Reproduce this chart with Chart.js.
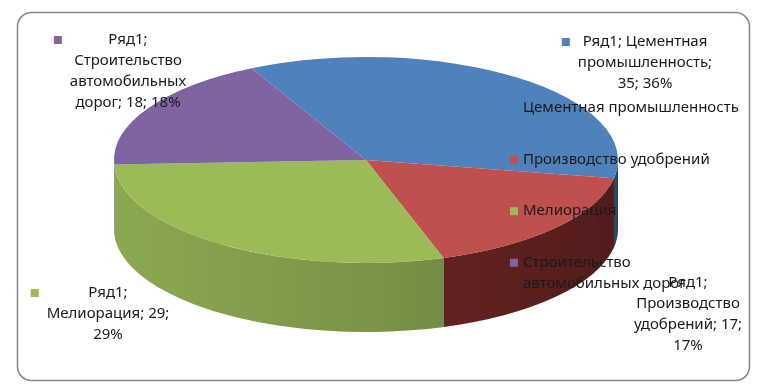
<!DOCTYPE html>
<html>
<head>
<meta charset="utf-8">
<script src="https://cdn.jsdelivr.net/npm/chart.js@4.4.1/dist/chart.umd.min.js"></script>
<style>
    html, body { margin: 0; padding: 0; background: #fff; }
    canvas { display: block; }
</style>
</head>
<body>
<canvas id="pie" width="775" height="385"></canvas>
<script>
// ============================================================
//  Data
// ============================================================

const SERIES = "Ряд1";
const categories = [
    "Цементная промышленность",
    "Производство удобрений",
    "Мелиорация",
    "Строительство автомобильных дорог",
];
const values   = [35, 17, 29, 18];
const percents = [36, 17, 29, 18];

// ============================================================
//  Styles / layout
// ============================================================

const topColors  = ["#4f81bd", "#c0504d", "#9bbb59", "#8064a2"];
const sideColors = ["#3e6592", "#762828", "#8ba851", "#654e82"];

const PIE = { cx: 366, cy: 160, rx: 252, ry: 103, depth: 69, rotation: -27 };
const FONT = "'Noto Sans', 'DejaVu Sans', sans-serif";
const TEXT = "#1a1a1a";

// data label anchors: centre x, first line y
const labelPos = [[645, 42], [688, 283], [108, 293], [128, 40]];
const labelKey = [true, false, true, true];
const LABEL_WRAP = 133;

const LEGEND = { x: 523, y0: 108, step: 51.6 };

// ============================================================
//  Helpers
// ============================================================

function wrapText(ctx, text, maxW) {
    const words = text.split(" ");
    const lines = [];
    let cur = "";
    for (const w of words) {
        const t = cur ? cur + " " + w : w;
        if (cur && ctx.measureText(t).width > maxW) {
            lines.push(cur);
            cur = w;
        } else {
            cur = t;
        }
    }
    if (cur) lines.push(cur);
    return lines;
}

// ============================================================
//  Plugins
// ============================================================

const framePlugin = {
    id: "frame",
    beforeDraw(chart) {
        const ctx = chart.ctx;
        ctx.save();
        ctx.fillStyle = "#fff";
        ctx.fillRect(0, 0, chart.width, chart.height);
        ctx.beginPath();
        ctx.roundRect(17.5, 12.5, 732, 368, 14);
        ctx.strokeStyle = "#8a8a8a";
        ctx.lineWidth = 1.6;
        ctx.stroke();
        ctx.restore();
    },
};

// squash the pie into an ellipse and extrude its front rim
const pie3dPlugin = {
    id: "pie3d",
    beforeDatasetsDraw(chart) {
        const ctx = chart.ctx;
        const meta = chart.getDatasetMeta(0);
        const el0 = meta.data[0];
        const cx = el0.x, cy = el0.y, r = el0.outerRadius;
        const sx = PIE.rx / r;
        const d = PIE.depth;

        ctx.save();
        ctx.translate(cx, 0);
        ctx.scale(sx, 1);
        ctx.translate(-cx, 0);

        meta.data.forEach((el, i) => {
            for (const k of [-1, 0, 1]) {
                const a0 = Math.max(el.startAngle + k * 2 * Math.PI, 0);
                const a1 = Math.min(el.endAngle + k * 2 * Math.PI, Math.PI);
                if (a1 <= a0) continue;
                ctx.beginPath();
                ctx.arc(cx, cy, r, a0, a1);
                ctx.arc(cx, cy + d, r, a1, a0, true);
                ctx.closePath();
                ctx.fillStyle = sideColors[i];
                ctx.fill();
            }
        });

        // lighting: darker towards the right
        const g = ctx.createLinearGradient(cx - r, 0, cx + r, 0);
        g.addColorStop(0, "rgba(0,0,0,0)");
        g.addColorStop(0.55, "rgba(0,0,0,0.13)");
        g.addColorStop(1, "rgba(0,0,0,0.3)");
        ctx.beginPath();
        ctx.arc(cx, cy, r, 0, Math.PI);
        ctx.arc(cx, cy + d, r, Math.PI, 0, true);
        ctx.closePath();
        ctx.fillStyle = g;
        ctx.fill();
        // transform stays active while Chart.js draws the top face
    },
    afterDatasetsDraw(chart) {
        chart.ctx.restore();
    },
};

const textPlugin = {
    id: "texts",
    afterDraw(chart) {
        const ctx = chart.ctx;
        ctx.save();
        ctx.textBaseline = "middle";

        // legend (wraps at the width of its first entry)
        ctx.font = "15px " + FONT;
        const legendWrap = ctx.measureText(categories[0]).width + 2;
        categories.forEach((c, i) => {
            const y = LEGEND.y0 + i * LEGEND.step;
            ctx.fillStyle = topColors[i];
            ctx.fillRect(LEGEND.x - 13, y - 4, 8, 8);
            ctx.fillStyle = TEXT;
            ctx.textAlign = "left";
            wrapText(ctx, c, legendWrap).forEach((ln, j) => {
                ctx.fillText(ln, LEGEND.x, y + j * 21);
            });
        });

        // data labels
        ctx.font = "15px " + FONT;
        categories.forEach((c, i) => {
            const txt = `${SERIES}; ${c}; ${values[i]}; ${percents[i]}%`;
            const lines = wrapText(ctx, txt, LABEL_WRAP);
            const [x, y] = labelPos[i];
            const w = Math.max(...lines.map(l => ctx.measureText(l).width));
            if (labelKey[i]) {
                ctx.fillStyle = topColors[i];
                ctx.fillRect(x - w / 2 - 16, y - 4, 8, 8);
            }
            ctx.fillStyle = TEXT;
            ctx.textAlign = "center";
            lines.forEach((ln, j) => ctx.fillText(ln, x, y + j * 21));
        });
        ctx.restore();
    },
};

// ============================================================
//  Chart
// ============================================================

new Chart(document.getElementById("pie"), {
    type: "pie",
    data: {
        labels: categories,
        datasets: [{
            label: SERIES,
            data: values,
            backgroundColor: topColors,
            borderWidth: 0,
            hoverOffset: 0,
        }],
    },
    options: {
        responsive: false,
        animation: false,
        events: [],
        rotation: PIE.rotation,
        layout: {
            padding: {
                left: PIE.cx - PIE.ry,
                right: 775 - (PIE.cx + PIE.ry),
                top: PIE.cy - PIE.ry,
                bottom: 385 - (PIE.cy + PIE.ry),
            },
        },
        plugins: {
            legend: { display: false },
            tooltip: { enabled: false },
        },
    },
    plugins: [framePlugin, pie3dPlugin, textPlugin],
});
</script>
</body>
</html>
